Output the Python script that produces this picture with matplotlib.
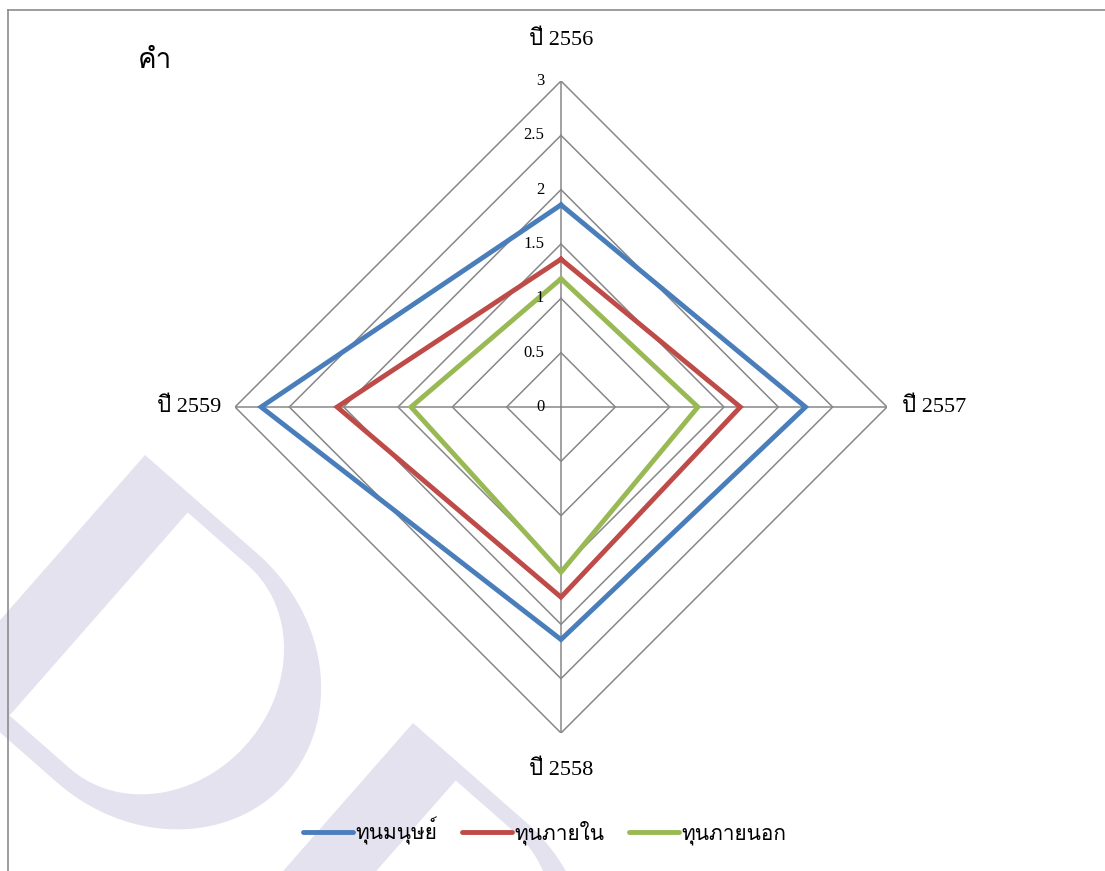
import numpy as np
import matplotlib
matplotlib.use("Agg")
import matplotlib.pyplot as plt
from matplotlib import font_manager
from matplotlib.path import Path
from matplotlib.patches import PathPatch
from matplotlib.lines import Line2D
from matplotlib.transforms import IdentityTransform

# ข้อมูล
categories = ["ปี 2556", "ปี 2557", "ปี 2558", "ปี 2559"]
series_names = ["ทุนมนุษย์", "ทุนภายใน", "ทุนภายนอก"]
human_capital = [1.86, 2.25, 2.14, 2.76]
internal_capital = [1.36, 1.65, 1.75, 2.06]
external_capital = [1.18, 1.26, 1.52, 1.38]
r_ticks = [0, 0.5, 1, 1.5, 2, 2.5, 3]
r_tick_labels = ["0", "0.5", "1", "1.5", "2", "2.5", "3"]

colors = ["#4a7ebb", "#be4b48", "#98b954"]
grid_color = "#878787"


def thai_font() -> str:
    """หาฟอนต์ที่มีตัวอักษรไทย"""
    for f in font_manager.fontManager.ttflist:
        try:
            if font_manager.get_font(f.fname).get_char_index(0x0E17):
                return f.name
        except Exception:
            continue
    return "DejaVu Sans"


THAI = thai_font()
SERIF = ["Liberation Serif", THAI]

W, H = 1105, 871
fig = plt.figure(figsize=(W / 100, H / 100), dpi=100)
fig.patch.set_facecolor("white")


def d_mark(tip_x, tip_y):
    """ตัว D จางๆ ด้านหลัง (พิกัดพิกเซล, แกน y ชี้ลง)"""
    u = np.array([-0.660, 0.752])
    v = np.array([0.752, 0.660])
    t = np.linspace(0, np.pi, 60)
    outer = [(0, 0), (0, 150)]
    outer += list(zip(152 - 152 * np.cos(t), 150 + 172 * np.sin(t)))
    outer += [(304, 150), (304, 0), (0, 0)]
    inner = [(15, 70), (15, 150)]
    inner += list(zip(150 - 135 * np.cos(t), 150 + 117 * np.sin(t)))
    inner += [(285, 150), (285, 70), (15, 70)]
    inner = inner[::-1]

    def to_px(pts):
        out = []
        for a, p in pts:
            x, y = np.array([tip_x, tip_y]) + a * u + p * v
            out.append((x, H - y))
        return out

    verts = to_px(outer) + to_px(inner)
    codes = ([Path.MOVETO] + [Path.LINETO] * (len(outer) - 2) + [Path.CLOSEPOLY]) * 2
    patch = PathPatch(Path(verts, codes), facecolor="#e5e2f0", edgecolor="none",
                      transform=IdentityTransform(), zorder=0)
    fig.add_artist(patch)


d_mark(145, 455)
d_mark(413, 723)

# กรอบ
fig.add_artist(Line2D([8 / W, 8 / W], [0, 1 - 10 / H], color="#8c8c8c", lw=1.2,
                      transform=fig.transFigure))
fig.add_artist(Line2D([8 / W, 1], [1 - 10 / H, 1 - 10 / H], color="#8c8c8c", lw=1.2,
                      transform=fig.transFigure))

cx, cy, rad = 561, 407, 326
ax = fig.add_axes([(cx - rad) / W, (H - cy - rad) / H, 2 * rad / W, 2 * rad / H],
                  projection="polar")
ax.set_zorder(2)
ax.patch.set_visible(False)
ax.set_theta_offset(np.pi / 2)
ax.set_theta_direction(-1)
ax.set_ylim(0, 3)
ax.grid(False)
ax.spines["polar"].set_visible(False)
ax.set_xticks([])
ax.set_yticks([])

theta = np.arange(len(categories)) * 2 * np.pi / len(categories)
theta_closed = np.append(theta, theta[0])

for r in r_ticks[1:]:
    ax.plot(theta_closed, [r] * len(theta_closed), color=grid_color, lw=1.1, zorder=1)
for t in theta:
    ax.plot([t, t], [0, r_ticks[-1]], color=grid_color, lw=1.1, zorder=1)

for vals, name, c in zip([human_capital, internal_capital, external_capital],
                         series_names, colors):
    ax.plot(theta_closed, vals + vals[:1], color=c, lw=3.5, label=name,
            solid_joinstyle="miter", zorder=3)

for r, lab in zip(r_ticks, r_tick_labels):
    ax.annotate(lab, xy=(0, r), xytext=(-12, 0), textcoords="offset points",
                ha="right", va="center", fontsize=12, family=SERIF, zorder=4)

offsets = [((0, 29), "center"), ((11, 0), "left"), ((0, -27), "center"), ((-10, 0), "right")]
for t, lab, (off, ha) in zip(theta, categories, offsets):
    ax.annotate(lab, xy=(t, r_ticks[-1]), xytext=off, textcoords="offset points",
                ha=ha, va="center", fontsize=16, family=SERIF)

fig.text(138 / W, 1 - 61 / H, "คำ", ha="left", va="center", fontsize=20,
         family=[THAI, "DejaVu Sans"])

handles = [Line2D([], [], color=c, lw=3.5, solid_capstyle="round") for c in colors]
fig.legend(handles, series_names, loc="center", bbox_to_anchor=(545 / W, 1 - 831 / H),
           ncol=3, frameon=False, handlelength=2.4, handletextpad=0.1,
           columnspacing=1.2, prop={"family": SERIF, "size": 15})

fig.savefig("out.png", dpi=100, facecolor="white")
